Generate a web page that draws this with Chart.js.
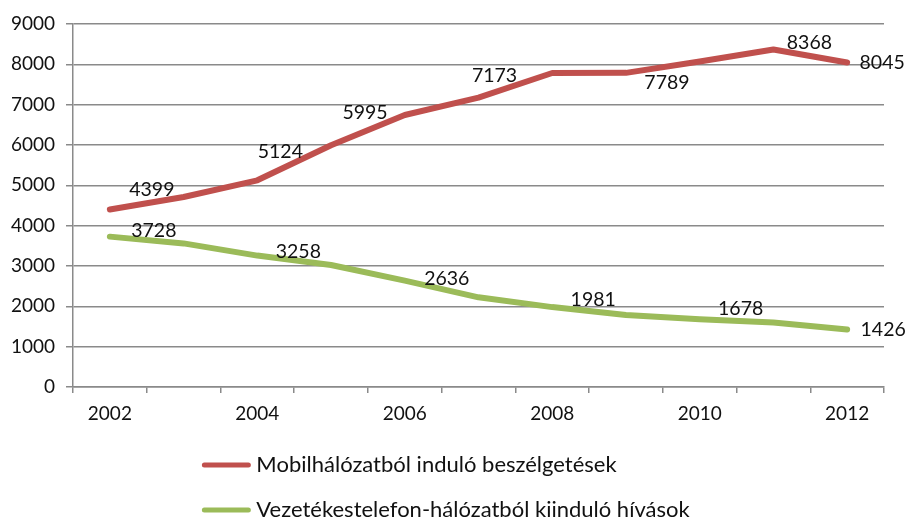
<!DOCTYPE html>
<html>
<head>
<meta charset="utf-8">
<script src="https://cdn.jsdelivr.net/npm/chart.js@4.4.0/dist/chart.umd.min.js"></script>
<style>
  html, body { margin: 0; padding: 0; background: #fff; }
  #wrap { width: 908px; height: 520px; }
</style>
</head>
<body>
<div id="wrap"><canvas id="calls" width="908" height="520"></canvas></div>
<script>
// years on the x axis
const years = ['2002', '2003', '2004', '2005', '2006', '2007', '2008', '2009', '2010', '2011', '2012']

// call volumes
const mobileCalls = [4399, 4711, 5124, 5995, 6744, 7173, 7785, 7789, 8070, 8368, 8045]
const landlineCalls = [3728, 3560, 3258, 3025, 2636, 2223, 1981, 1785, 1678, 1600, 1426]

const seriesNames = ['Mobilhálózatból induló beszélgetések', 'Vezetékestelefon-hálózatból kiinduló hívások']

// which points carry a value label
const mobileLabelAt = [0, 2, 3, 5, 7, 9, 10]
const landlineLabelAt = [0, 2, 4, 6, 8, 10]

// label nudges from the point (label centre), in px
const mobileNudge = [[42, -20], [23, -29], [34, -32], [16, -22], [41, 10], [36, -7], [35, 0]]
const landlineNudge = [[44, -6], [41, -4], [42, -2], [41, -7], [41, -11], [36, 0]]

const FONT = 'Lato, "Liberation Sans", sans-serif'
const GRID = '#8a8a8a'

const valueLabels = {
  id: 'valueLabels',
  afterDatasetsDraw(chart) {
    const ctx = chart.ctx
    const sets = [[mobileLabelAt, mobileNudge], [landlineLabelAt, landlineNudge]]
    ctx.save()
    ctx.font = '19.5px ' + FONT
    ctx.fillStyle = '#111'
    ctx.textAlign = 'center'
    ctx.textBaseline = 'middle'
    sets.forEach(([idxs, nudges], d) => {
      const meta = chart.getDatasetMeta(d)
      const data = chart.data.datasets[d].data
      idxs.forEach((i, k) => {
        const pt = meta.data[i]
        ctx.fillText(String(data[i]), pt.x + nudges[k][0], pt.y + nudges[k][1])
      })
    })
    ctx.restore()
  }
}

const stackedLegend = {
  id: 'stackedLegend',
  afterDraw(chart) {
    const ctx = chart.ctx
    const area = chart.chartArea
    const sets = chart.data.datasets
    ctx.save()
    ctx.font = '22px ' + FONT
    const textW = Math.max(...sets.map(s => ctx.measureText(s.label).width))
    const sample = 48
    const gap = 6
    const left = (chart.width - (sample + gap + textW)) / 2 - 8
    const rows = [area.bottom + 78, area.bottom + 123]
    ctx.textBaseline = 'middle'
    ctx.textAlign = 'left'
    sets.forEach((s, i) => {
      ctx.strokeStyle = s.borderColor
      ctx.lineWidth = 5
      ctx.lineCap = 'round'
      ctx.beginPath()
      ctx.moveTo(left + 2, rows[i])
      ctx.lineTo(left + sample - 2, rows[i])
      ctx.stroke()
      ctx.fillStyle = '#111'
      ctx.fillText(s.label, left + sample + gap, rows[i])
    })
    ctx.restore()
  }
}

new Chart(document.getElementById('calls'), {
  type: 'line',
  data: {
    labels: years,
    datasets: [
      {
        label: seriesNames[0],
        data: mobileCalls,
        borderColor: '#C0504D',
        backgroundColor: '#C0504D'
      },
      {
        label: seriesNames[1],
        data: landlineCalls,
        borderColor: '#9BBB59',
        backgroundColor: '#9BBB59'
      }
    ]
  },
  options: {
    responsive: false,
    animation: false,
    layout: { padding: { top: 24, right: 24, left: 0, bottom: 0 } },
    elements: {
      line: { borderWidth: 6, tension: 0, borderCapStyle: 'round', borderJoinStyle: 'round' },
      point: { radius: 0, hoverRadius: 0 }
    },
    plugins: {
      legend: { display: false },
      tooltip: { enabled: false }
    },
    scales: {
      x: {
        offset: true,
        grid: { offset: true, drawOnChartArea: false, drawTicks: true, tickLength: 6, color: GRID, lineWidth: 1.5 },
        border: { color: GRID, width: 1.5 },
        ticks: {
          autoSkip: false,
          maxRotation: 0,
          padding: 9,
          color: '#111',
          font: { family: FONT, size: 19 },
          callback: (v, i) => (i % 2 === 0 ? years[i] : '')
        },
        afterFit: s => { s.height = 133 }
      },
      y: {
        min: 0,
        max: 9000,
        grid: { color: GRID, lineWidth: 1.5, tickLength: 7 },
        border: { color: GRID, width: 1.5 },
        ticks: {
          stepSize: 1000,
          padding: 11,
          color: '#111',
          font: { family: FONT, size: 19 },
          callback: v => String(v)
        },
        afterFit: s => { s.width = 73 }
      }
    }
  },
  plugins: [valueLabels, stackedLegend]
})
</script>
</body>
</html>
